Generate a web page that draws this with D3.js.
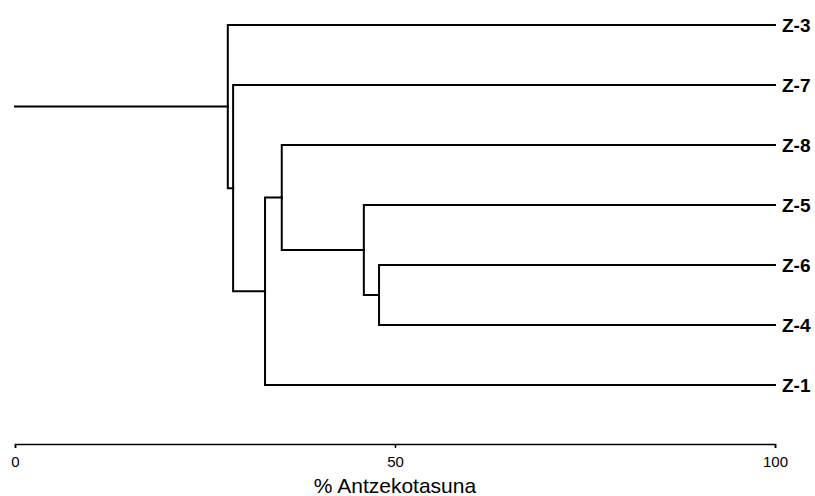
<!DOCTYPE html>
<html>
<head>
<meta charset="utf-8">
<script src="https://cdnjs.cloudflare.com/ajax/libs/d3/7.8.5/d3.min.js"></script>
<style>
body { margin: 0; background: #fff; }
svg { display: block; font-family: "Liberation Sans", Arial, sans-serif; }
</style>
</head>
<body>
<svg id="chart" width="815" height="496"></svg>
<script>
// leaves top to bottom
const leaves = ["Z-3", "Z-7", "Z-8", "Z-5", "Z-6", "Z-4", "Z-1"];
// merges: [left child, right child, similarity %]
const merges = [
  ["Z-6", "Z-4", 47.9],
  ["Z-5", "m0", 45.9],
  ["Z-8", "m1", 35.1],
  ["m2", "Z-1", 32.9],
  ["Z-7", "m3", 28.7],
  ["Z-3", "m4", 28.0]
];
const ticks = [0, 50, 100];
const axisTitle = "% Antzekotasuna";

const svg = d3.select("#chart");
const x = d3.scaleLinear().domain([0, 100]).range([15, 775]);
const y = d3.scalePoint().domain(leaves).range([25, 385]);

// build tree from merge list
const nodes = {};
leaves.forEach(l => nodes[l] = { name: l, sim: 100 });
merges.forEach((m, i) => {
  nodes["m" + i] = { name: "m" + i, sim: m[2], children: [nodes[m[0]], nodes[m[1]]] };
});
const root = d3.hierarchy(nodes["m" + (merges.length - 1)]);
root.eachAfter(d => {
  d.px = x(d.data.sim);
  d.py = d.children ? d3.mean(d.children, c => c.py) : y(d.data.name);
});

const g = svg.append("g")
  .attr("fill", "none")
  .attr("stroke", "#000")
  .attr("stroke-width", 2)
  .attr("stroke-linecap", "square");

// elbow links
g.selectAll("path.link")
  .data(root.links())
  .join("path")
  .attr("class", "link")
  .attr("d", d => `M${d.source.px},${d.source.py}V${d.target.py}H${d.target.px}`);

// root stem
g.append("path")
  .attr("d", `M${x(0)},${root.py}H${root.px}`);

// leaf labels
svg.append("g")
  .selectAll("text")
  .data(root.leaves())
  .join("text")
  .attr("x", d => d.px + 7)
  .attr("y", d => d.py)
  .attr("dy", "0.36em")
  .attr("font-size", 19)
  .attr("font-weight", "bold")
  .text(d => d.data.name);

// axis
const axis = svg.append("g")
  .attr("transform", "translate(0,444)")
  .call(d3.axisBottom(x).tickValues(ticks).tickSize(4).tickSizeOuter(4).tickPadding(8));
axis.selectAll("path, line").attr("stroke-width", 1.5);
axis.selectAll("text").attr("font-size", 15).attr("font-family", "Liberation Sans, Arial, sans-serif");

svg.append("text")
  .attr("x", x(50))
  .attr("y", 493)
  .attr("text-anchor", "middle")
  .attr("font-size", 21)
  .text(axisTitle);
</script>
</body>
</html>
